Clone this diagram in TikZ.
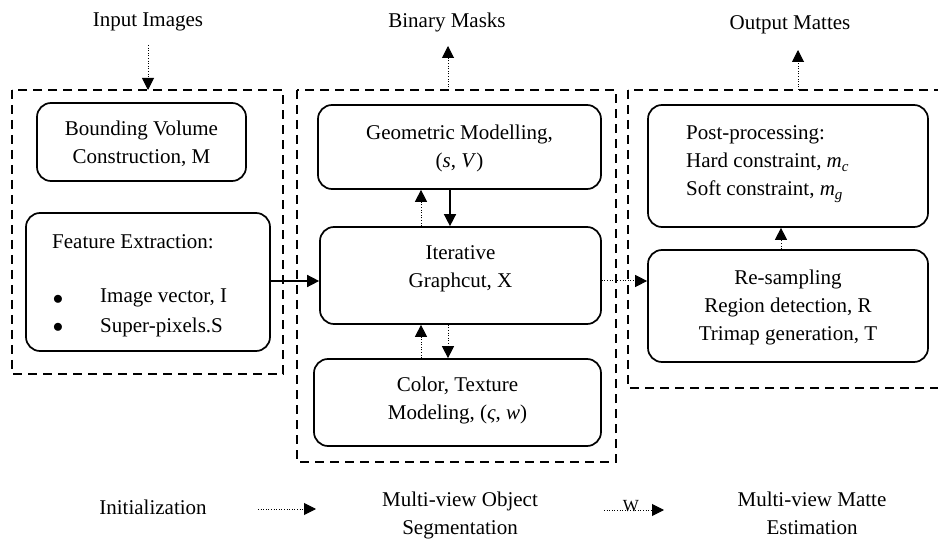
\documentclass[tikz,border=0pt]{standalone}
\usepackage{fontspec}
\setmainfont{Liberation Serif}
\usetikzlibrary{arrows.meta}
\newcommand{\subit}[2]{\textit{#1}\raisebox{-4pt}{\fontsize{15}{15}\selectfont\textit{#2}}}
\begin{document}
\begin{tikzpicture}[x=1pt,y=-1pt,
  txt/.style={font=\fontsize{21}{28}\selectfont, inner sep=0pt, align=center},
  box/.style={draw, line width=1.7pt, rounded corners=14pt, inner sep=0pt},
  group/.style={draw, line width=1.8pt, dash pattern=on 9pt off 6pt},
  dotarrow/.style={line width=1pt, dash pattern=on 1pt off 1.6pt, -{Triangle[length=12pt,width=12pt]}},
  solidarrow/.style={line width=1.5pt, -{Triangle[length=12pt,width=12pt]}}]
\clip (0,0) rectangle (938,540);
\fill[white] (0,0) rectangle (938,540);

% group frames
\draw[group] (12,90) rectangle (283,374);
\draw[group] (297,90) rectangle (616,462);
\draw[group] (628,90) rectangle (960,388);

% boxes
\node[box, minimum width=209pt, minimum height=78pt] (bv) at (141.5,142) {};
\node[box, minimum width=244pt, minimum height=138pt] (fe) at (148,282) {};
\node[box, minimum width=283pt, minimum height=84pt] (geo) at (459.5,147) {};
\node[box, minimum width=281pt, minimum height=97pt] (iter) at (460.5,275.5) {};
\node[box, minimum width=287pt, minimum height=87pt] (col) at (457.5,402.5) {};
\node[box, minimum width=280pt, minimum height=122pt] (post) at (788,166) {};
\node[box, minimum width=280pt, minimum height=112pt] (res) at (788,306) {};

% box texts
\node[txt] (bvT) at (141.5,144) {Bounding Volume\\Construction, M};
\node[txt, anchor=west] (feT1) at (52,242) {Feature Extraction:};
\node[txt] (feB1) at (58,300) {$\bullet$};
\node[txt] (feB2) at (58,328) {$\bullet$};
\node[txt, anchor=west] (feT2) at (100,298) {Image vector, I};
\node[txt, anchor=west] (feT3) at (100,327) {Super-pixels.S};
\node[txt] (geoT) at (459.5,148) {Geometric Modelling,\\(\textit{s}, \textit{V})};
\node[txt] (iterT) at (460.5,269) {Iterative\\Graphcut, X};
\node[txt] (colT) at (457.5,400) {Color, Texture\\Modeling, (\textit{ς}, \textit{w})};
\node[txt, align=left, anchor=west] (postT) at (686,164) {Post-processing:\\Hard constraint, \subit{m}{c}\\Soft constraint, \subit{m}{g}};
\node[txt] (resT) at (788,307) {Re-sampling\\Region detection, R\\Trimap generation, T};

% top labels
\node[txt] (inL) at (148,22) {Input Images};
\node[txt] (bmL) at (447,22) {Binary Masks};
\node[txt] (omL) at (790,25) {Output Mattes};
\coordinate (inS) at (148,45);
\coordinate (inE) at (148,90);
\coordinate (bmS) at (448,90);
\coordinate (bmE) at (448,46);
\coordinate (omS) at (798,90);
\coordinate (omE) at (798,50);
\draw[dotarrow] (inS) -- (inE);
\draw[dotarrow] (bmS) -- (bmE);
\draw[dotarrow] (omS) -- (omE);

% connectors
\draw[solidarrow] (fe.east |- 0,281) -- (iter.west |- 0,281);
\draw[dotarrow] (iter.east |- 0,281) -- (res.west |- 0,281);
\draw[dotarrow] (iter.north -| 421,0) -- (geo.south -| 421,0);
\draw[solidarrow] (geo.south -| 450,0) -- (iter.north -| 450,0);
\draw[dotarrow] (col.north -| 421,0) -- (iter.south -| 421,0);
\draw[dotarrow] (iter.south -| 448,0) -- (col.north -| 448,0);
\draw[dotarrow] (res.north -| 781,0) -- (post.south -| 781,0);

% bottom legend
\node[txt] (init) at (153,507) {Initialization};
\node[txt] (mvo) at (460,515) {Multi-view Object\\Segmentation};
\node[txt] (mvm) at (812,513) {Multi-view Matte\\Estimation};
\coordinate (a1s) at (258,509);
\coordinate (a1e) at (316,509);
\coordinate (a2s) at (604,510);
\coordinate (a2e) at (664,510);
\draw[dotarrow] (a1s) -- (a1e);
\draw[dotarrow] (a2s) -- (a2e);
\node[font=\fontsize{17}{18}\selectfont, inner sep=0pt] (wl) at (631,506) {W};
\end{tikzpicture}
\end{document}
